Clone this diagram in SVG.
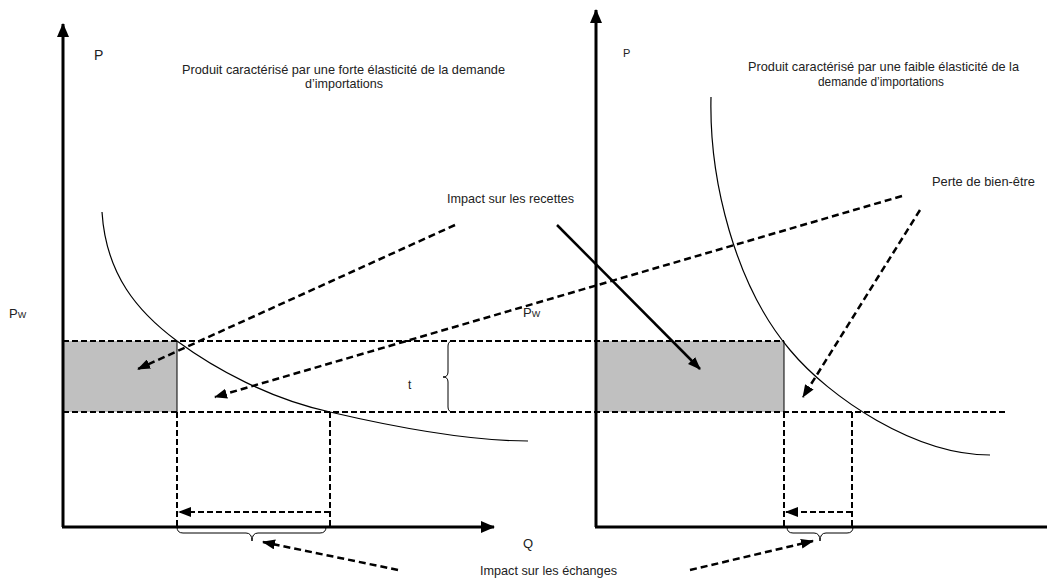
<svg xmlns="http://www.w3.org/2000/svg" width="1047" height="579" viewBox="0 0 1047 579">
<style>
text{font-family:"Liberation Sans Narrow","Liberation Sans",Arial,sans-serif;fill:#222;}
.axis{stroke:#000;stroke-width:3;fill:none;}
.hd{stroke:#000;stroke-width:2;stroke-dasharray:6,3;fill:none;}
.ad{stroke:#000;stroke-width:2.5;stroke-dasharray:7,4;fill:none;}
.as{stroke:#000;stroke-width:2.5;fill:none;}
.thin{stroke:#000;stroke-width:1;fill:none;}
.curve{stroke:#000;stroke-width:1.2;fill:none;}
.box{fill:#c0c0c0;stroke:none;}
</style>
<defs>
<marker id="ah" markerUnits="userSpaceOnUse" markerWidth="13" markerHeight="10" refX="12" refY="5" orient="auto"><path d="M0,0 L13,5 L0,10 z" fill="#000"/></marker>
<marker id="axh" markerUnits="userSpaceOnUse" markerWidth="14" markerHeight="12" refX="13" refY="6" orient="auto"><path d="M0,0 L14,6 L0,12 z" fill="#000"/></marker>
</defs>

<g id="left-chart">
<rect class="box" x="63" y="341" width="114" height="71"/>
<line class="thin" x1="177" y1="341" x2="177" y2="412"/>
<path class="curve" d="M102,212 C106,275 138,312 177,341 C215,369 270,399 330,412 C390,426 470,441 528,441"/>
<line class="axis" x1="63" y1="527" x2="63" y2="24" marker-end="url(#axh)"/>
<line class="axis" x1="62" y1="527" x2="494" y2="527" marker-end="url(#axh)"/>
<text x="94" y="60" font-size="14">P</text>
<text x="9" y="318" font-size="13">P<tspan font-size="9">W</tspan></text>
<text x="343.5" y="74" font-size="13" text-anchor="middle" textLength="323" lengthAdjust="spacingAndGlyphs">Produit caractérisé par une forte élasticité de la demande</text>
<text x="344" y="88" font-size="13" text-anchor="middle" textLength="78" lengthAdjust="spacingAndGlyphs">d’importations</text>
<text x="408" y="389" font-size="12">t</text>
<path class="thin" d="M453,341 Q448,341 448,346 L448,372 Q448,377 443,377 Q448,377 448,382 L448,407 Q448,412 453,412"/>
</g>

<g id="right-chart">
<rect class="box" x="595" y="341" width="189" height="71"/>
<line class="thin" x1="784" y1="341" x2="784" y2="412"/>
<path class="curve" d="M711,97 C709,180 735,285 790,350 C830,398 915,455 990,455"/>
<line class="axis" x1="596" y1="527" x2="596" y2="10" marker-end="url(#axh)"/>
<line class="axis" x1="595" y1="527" x2="1047" y2="527"/>
<text x="623" y="57" font-size="11">P</text>
<text x="523" y="317" font-size="13">P<tspan font-size="9">W</tspan></text>
<text x="523" y="548" font-size="13">Q</text>
<text x="883.5" y="71" font-size="13" text-anchor="middle" textLength="271" lengthAdjust="spacingAndGlyphs">Produit caractérisé par une faible élasticité de la</text>
<text x="881" y="86" font-size="13" text-anchor="middle" textLength="126" lengthAdjust="spacingAndGlyphs">demande d’importations</text>
</g>

<g id="labels">
<text x="447" y="203" font-size="13" textLength="127" lengthAdjust="spacingAndGlyphs">Impact sur les recettes</text>
<text x="932" y="186" font-size="13" textLength="103" lengthAdjust="spacingAndGlyphs">Perte de bien-être</text>
<text x="480" y="575" font-size="13" textLength="137" lengthAdjust="spacingAndGlyphs">Impact sur les échanges</text>
</g>

<g id="connectors">
<line class="hd" x1="63" y1="341" x2="784" y2="341"/>
<line class="hd" x1="63" y1="412" x2="1008" y2="412"/>
<line class="hd" x1="177" y1="412" x2="177" y2="527"/>
<line class="hd" x1="330" y1="412" x2="330" y2="527"/>
<line class="hd" x1="784" y1="412" x2="784" y2="527"/>
<line class="hd" x1="852" y1="412" x2="852" y2="527"/>
<line class="hd" x1="330" y1="512" x2="179" y2="512" marker-end="url(#ah)"/>
<line class="hd" x1="852" y1="512" x2="786" y2="512" marker-end="url(#ah)"/>
<path class="thin" d="M177,527 Q177,533 183,533 L246,533 Q252,533 252,541 Q252,533 258,533 L320,533 Q326,533 326,527"/>
<path class="thin" d="M787,527 Q787,533 793,533 L814,533 Q820,533 820,541 Q820,533 826,533 L847,533 Q853,533 853,527"/>
<line class="ad" x1="455" y1="225" x2="138" y2="369" marker-end="url(#ah)"/>
<line class="ad" x1="902" y1="196" x2="215" y2="397" marker-end="url(#ah)"/>
<line class="as" x1="557" y1="225" x2="700" y2="369" marker-end="url(#ah)"/>
<line class="ad" x1="920" y1="210" x2="803" y2="397" marker-end="url(#ah)"/>
<line class="ad" x1="398" y1="570" x2="263" y2="542" marker-end="url(#ah)"/>
<line class="ad" x1="690" y1="570" x2="813" y2="541" marker-end="url(#ah)"/>
</g>
</svg>
